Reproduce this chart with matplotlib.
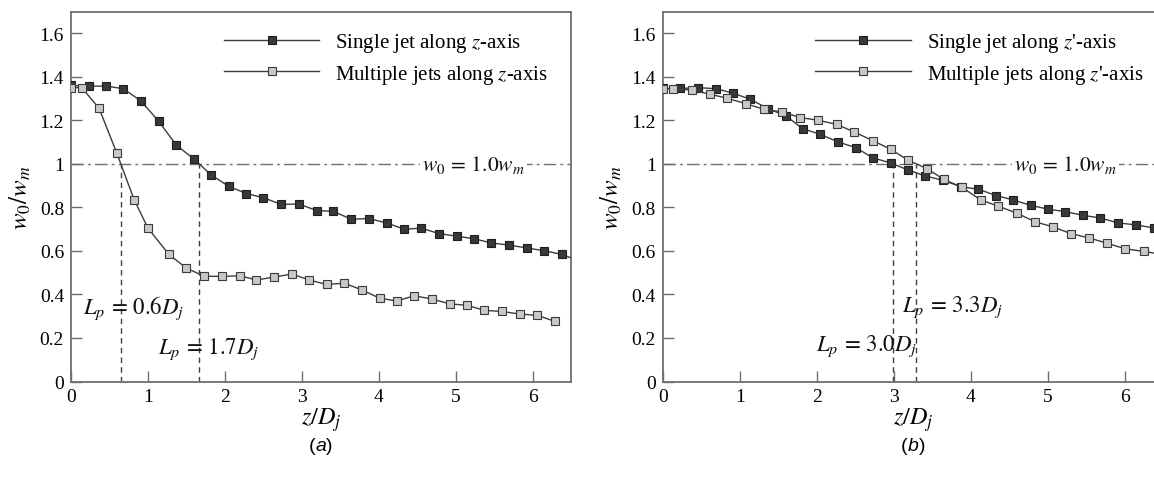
import numpy as np
import matplotlib
matplotlib.use("Agg")
import matplotlib.pyplot as plt
from matplotlib.offsetbox import TextArea, HPacker, AnnotationBbox

plt.rcParams['font.family'] = ['Liberation Serif', 'DejaVu Serif']
plt.rcParams['mathtext.fontset'] = 'stix'

# ---- (a) jets along z-axis ----
z_single_a = [0.0, 0.23, 0.46, 0.68, 0.91, 1.14, 1.37, 1.60, 1.82, 2.05, 2.28, 2.50,
              2.73, 2.96, 3.19, 3.41, 3.64, 3.87, 4.10, 4.33, 4.55, 4.78, 5.01, 5.24,
              5.46, 5.69, 5.92, 6.15, 6.38, 6.61]
w_single_a = [1.361, 1.358, 1.358, 1.346, 1.289, 1.196, 1.086, 1.022, 0.950, 0.897,
              0.864, 0.845, 0.814, 0.816, 0.786, 0.782, 0.746, 0.749, 0.729, 0.700,
              0.705, 0.680, 0.668, 0.656, 0.637, 0.627, 0.614, 0.601, 0.584, 0.553]

z_multi_a = [0.0, 0.14, 0.365, 0.595, 0.82, 1.0, 1.27, 1.50, 1.73, 1.96, 2.19, 2.41,
             2.64, 2.87, 3.09, 3.32, 3.55, 3.78, 4.01, 4.23, 4.46, 4.69, 4.92, 5.15,
             5.37, 5.60, 5.83, 6.06, 6.29]
w_multi_a = [1.351, 1.351, 1.256, 1.050, 0.836, 0.705, 0.585, 0.521, 0.484, 0.483,
             0.486, 0.467, 0.480, 0.494, 0.467, 0.446, 0.452, 0.421, 0.383, 0.370,
             0.394, 0.379, 0.357, 0.350, 0.327, 0.322, 0.310, 0.304, 0.276]

# ---- (b) jets along z'-axis ----
z_single_b = [0.0, 0.23, 0.46, 0.69, 0.91, 1.14, 1.37, 1.60, 1.82, 2.05, 2.28, 2.51,
              2.73, 2.96, 3.19, 3.41, 3.64, 3.88, 4.10, 4.33, 4.55, 4.78, 5.01, 5.23,
              5.46, 5.68, 5.92, 6.15, 6.38, 6.61]
w_single_b = [1.347, 1.347, 1.351, 1.346, 1.326, 1.297, 1.254, 1.221, 1.162, 1.136,
              1.101, 1.075, 1.028, 1.005, 0.972, 0.945, 0.925, 0.895, 0.884, 0.855,
              0.835, 0.810, 0.792, 0.781, 0.764, 0.752, 0.729, 0.720, 0.706, 0.692]

z_multi_b = [0.0, 0.14, 0.38, 0.61, 0.84, 1.08, 1.32, 1.55, 1.79, 2.02, 2.26, 2.49,
             2.73, 2.96, 3.19, 3.43, 3.65, 3.89, 4.13, 4.36, 4.60, 4.84, 5.07, 5.30,
             5.54, 5.77, 6.01, 6.25, 6.48]
w_multi_b = [1.346, 1.346, 1.340, 1.321, 1.302, 1.277, 1.251, 1.239, 1.213, 1.201,
             1.182, 1.147, 1.107, 1.068, 1.017, 0.979, 0.930, 0.892, 0.835, 0.806,
             0.774, 0.734, 0.711, 0.680, 0.660, 0.636, 0.610, 0.598, 0.585]

y_ticks = [0, 0.2, 0.4, 0.6, 0.8, 1.0, 1.2, 1.4, 1.6]
y_tick_labels = ['0', '0.2', '0.4', '0.6', '0.8', '1', '1.2', '1.4', '1.6']
x_ticks = [0, 1, 2, 3, 4, 5, 6]
w_ref = 1.0

panels = [
    dict(zs=z_single_a, ws=w_single_a, zm=z_multi_a, wm=w_multi_a,
         axis="$z$", tag="a",
         lp=[(r'$L_p\,=\,0.6D_j$', 0.15, 0.34), (r'$L_p\,=\,1.7D_j$', 1.13, 0.155)]),
    dict(zs=z_single_b, ws=w_single_b, zm=z_multi_b, wm=w_multi_b,
         axis="$z$'", tag="b",
         lp=[(r'$L_p\,=\,3.3D_j$', 3.11, 0.345), (r'$L_p\,=\,3.0D_j$', 1.99, 0.165)]),
]

W, H = 1154, 481
fig = plt.figure(figsize=(W / 100, H / 100), dpi=100)

line_col = '#3c3c3c'
spine_col = '#6e6e6e'
fs_leg = 15
fs_tick = 14

def crossing(z, w, level):
    z = np.asarray(z); w = np.asarray(w)
    idx = np.where((w[:-1] >= level) & (w[1:] < level))[0][0]
    t = (w[idx] - level) / (w[idx] - w[idx + 1])
    return z[idx] + t * (z[idx + 1] - z[idx])

for i, p in enumerate(panels):
    x0 = [71, 662.7][i]
    ax = fig.add_axes([x0 / W, 1 - 382.5 / H, 500.3 / W, 369.8 / H])
    ax.set_xlim(0, 6.5)
    ax.set_ylim(0, 1.7)

    ax.axhline(w_ref, color='#707070', lw=1.0, ls=(0, (9, 3, 2, 3)), zorder=1)

    ax.plot(p['zs'], p['ws'], color=line_col, lw=1.0, marker='s', ms=6,
            mfc='#383838', mec='#1e1e1e', mew=0.8, zorder=3,
            label=f"Single jet along {p['axis']}-axis")
    ax.plot(p['zm'], p['wm'], color=line_col, lw=1.0, marker='s', ms=6,
            mfc='#c8c8c8', mec='#3a3a3a', mew=0.8, zorder=3,
            label=f"Multiple jets along {p['axis']}-axis")

    for z_arr, w_arr in ((p['zs'], p['ws']), (p['zm'], p['wm'])):
        zc = crossing(z_arr, w_arr, w_ref)
        ax.plot([zc, zc], [0, w_ref], color='#404040', lw=1.0,
                ls=(0, (4, 3)), zorder=2)

    for txt, tx, ty in p['lp']:
        ax.text(tx, ty, txt, fontsize=16.5, ha='left', va='center', color='#111111')

    ax.text(5.23, w_ref, r'$w_{\mathit{0}}\,=\,1.0w_m$', fontsize=15.5, ha='center',
            va='center', color='#111111', zorder=4,
            bbox=dict(facecolor='white', edgecolor='none', pad=1.5))

    ax.legend(loc='upper left', bbox_to_anchor=(0.305, 0.948), frameon=False,
              fontsize=fs_leg, handlelength=4.6, handletextpad=0.75,
              labelspacing=0.42, borderpad=0, borderaxespad=0)

    ax.set_xticks(x_ticks)
    ax.set_xticklabels([str(t) for t in x_ticks], family='Liberation Serif')
    ax.set_yticks(y_ticks)
    ax.set_yticklabels(y_tick_labels, family='Liberation Serif')
    ax.tick_params(direction='in', length=8, width=1.0, color=spine_col,
                   labelsize=fs_tick, pad=5)
    for s in ax.spines.values():
        s.set_color(spine_col)
        s.set_linewidth(1.3)

    ax.set_xlabel(r'$z/D_j$', fontsize=17.5, labelpad=0)
    ax.set_ylabel(r'$w_{\mathit{0}}/w_m$', fontsize=18, labelpad=5)

    # panel tag "(a)" / "(b)" with an italic letter
    parts = [TextArea("(", textprops=dict(family='Liberation Sans', size=14)),
             TextArea(p['tag'], textprops=dict(family='Liberation Sans', size=14,
                                               style='italic')),
             TextArea(")", textprops=dict(family='Liberation Sans', size=14))]
    box = HPacker(children=parts, align='baseline', pad=0, sep=0)
    cx = [320.5, 913][i]
    ab = AnnotationBbox(box, (cx / W, 1 - 447 / H), xycoords='figure fraction',
                        frameon=False, box_alignment=(0.5, 0.5))
    fig.add_artist(ab)

fig.savefig('out.png', dpi=100)
